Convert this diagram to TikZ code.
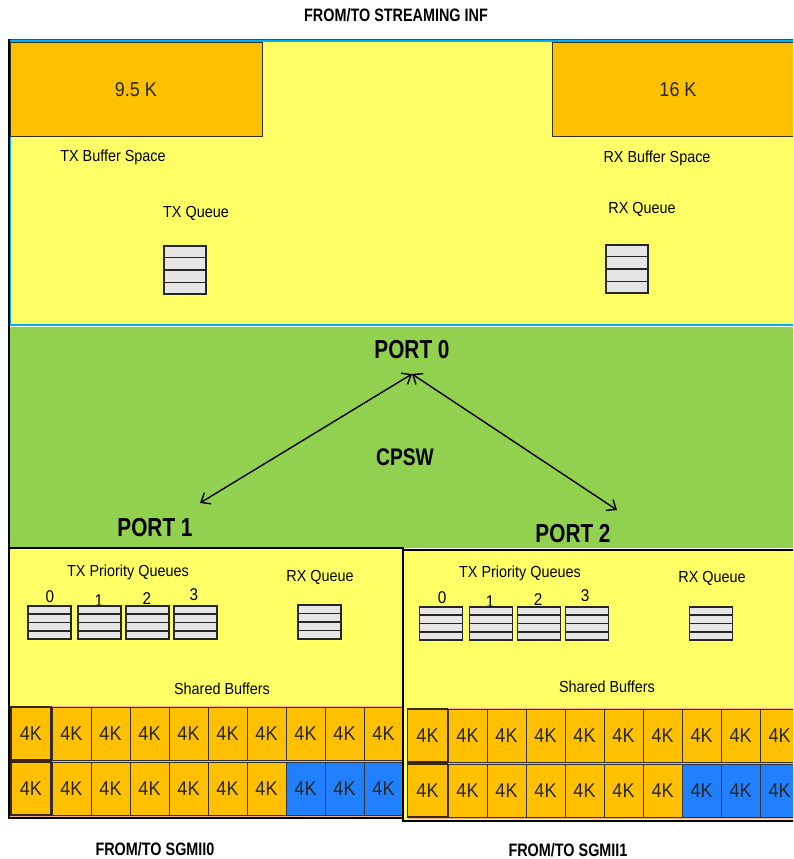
\documentclass[tikz,border=0pt]{standalone}
\usepackage{fontspec}
\setmainfont{Liberation Sans}
\newfontfamily\narrowbf[FakeStretch=0.8]{Liberation Sans Bold}
\newfontfamily\lblfont[FakeStretch=0.9]{Liberation Sans}
\usetikzlibrary{arrows.meta,calc}
\definecolor{ylw}{HTML}{FFFF66}
\definecolor{org}{HTML}{FFC000}
\definecolor{grn}{HTML}{92D050}
\definecolor{cyn}{HTML}{00B0F0}
\definecolor{blu}{HTML}{2080FF}
\definecolor{qgray}{HTML}{E6E6E6}
\definecolor{peach}{HTML}{F4B183}
\definecolor{txtgray}{HTML}{262626}
\tikzset{
  lbl/.style={font=\lblfont\fontsize{16}{18}\selectfont, inner sep=0, text=black},
  digit/.style={font=\lblfont\fontsize{17}{19}\selectfont, inner sep=0},
  big/.style={font=\narrowbf\fontsize{26}{28}\selectfont, inner sep=0},
  hdr/.style={font=\narrowbf\fontsize{18}{20}\selectfont, inner sep=0},
  bufbig/.style={draw=black!80, line width=1pt, fill=org, font=\lblfont\fontsize{20}{22}\selectfont, text=txtgray, inner sep=0},
  cell/.style={draw=black!80, line width=0.8pt, fill=org, font=\lblfont\fontsize{20}{22}\selectfont, text=txtgray, inner sep=0, minimum width=39pt, minimum height=53pt},
  firstcell/.style={cell, line width=1.4pt, draw=black!70!brown, minimum width=40pt},
  bluecell/.style={cell, fill=blu},
  dbl/.style={{Straight Barb[length=8pt,width=13pt]}-{Straight Barb[length=8pt,width=13pt]}, line width=1.4pt}
}
\newcommand\qicon[5]{%
  \node[draw=black!85, fill=qgray, line width=1.2pt, minimum width=#4pt, minimum height=#5pt, inner sep=0] (#1) at (#2,#3) {};
  \foreach \k in {1,2,3}
    \draw[line width=1.2pt, black!85] ($(#1.north west)!\k/4!(#1.south west)$) -- ($(#1.north east)!\k/4!(#1.south east)$);
}
\begin{document}
\begin{tikzpicture}[x=1pt,y=-1pt]
\useasboundingbox (0,0) rectangle (793,859);
\clip (0,0) rectangle (793,859);
\fill[white] (0,0) rectangle (793,859);

% top region
\draw[black!70, line width=0.8pt] (9,39) -- (800,39);
\draw[cyn, line width=2pt, fill=ylw] (10,41) rectangle (800,325);
% green CPSW region
\fill[grn] (9,326.5) rectangle (800,548);
\draw[black, line width=1.2pt] (9,39) -- (9,818);

% buffer spaces
\node[bufbig, minimum width=252pt, minimum height=93pt] (txbuf) at (136,89.5) {9.5 K};
\node[bufbig, minimum width=260pt, minimum height=93pt] (rxbuf) at (682,89.5) {};
\node[font=\lblfont\fontsize{20}{22}\selectfont, text=txtgray, inner sep=0] (rxbuftxt) at (678,90) {16 K};
\node[lbl] (txbs) at (113,157) {TX Buffer Space};
\node[lbl] (rxbs) at (657,158) {RX Buffer Space};
\node[lbl] (txql) at (196,213) {TX Queue};
\node[lbl] (rxql) at (642,209) {RX Queue};
\qicon{txq}{185}{270}{42}{48}
\qicon{rxq}{627}{269}{42}{48}

% header
\node[hdr] (strm) at (396,15) {FROM/TO STREAMING INF};

% ports
\node[big] (port0) at (412,350) {PORT 0};
\node[big, font=\narrowbf\fontsize{24}{26}\selectfont] (cpsw) at (405,457) {CPSW};
\node[big] (port1) at (155,528) {PORT 1};
\node[big] (port2) at (573,534) {PORT 2};
\coordinate (apex) at (412,374);
\coordinate (p1end) at (200,503);
\coordinate (p2end) at (617,510);
\draw[dbl] (apex) -- (p1end);
\draw[dbl] (apex) -- (p2end);

% port 1 box
\draw[black, line width=1.5pt, fill=ylw] (9,548) rectangle (403,818);
\node[lbl] (p1tx) at (128,572) {TX Priority Queues};
\node[digit] (p1d0) at (50,597) {0};
\node[digit] (p1d1) at (99,601) {1};
\node[digit] (p1d2) at (147,599) {2};
\node[digit] (p1d3) at (194,595) {3};
\qicon{p1q0}{49.5}{622.5}{43}{33}
\qicon{p1q1}{99.5}{622.5}{43}{33}
\qicon{p1q2}{147.5}{622.5}{43}{33}
\qicon{p1q3}{195.5}{622.5}{43}{33}
\node[lbl] (p1rx) at (320,577) {RX Queue};
\qicon{p1rq}{319.5}{622}{43}{34}
\node[lbl] (p1sb) at (222,689) {Shared Buffers};
\fill[peach] (11,706) rectangle (402,817);
\node[firstcell] (p1a0) at (31,733.5) {4K};
\node[firstcell] (p1b0) at (31,788.5) {4K};
\foreach \i in {1,...,9}{
  \node[cell] (p1a\i) at ({52+39*(\i-1)+19.5},733.5) {4K};
}
\foreach \i in {1,...,6}{
  \node[cell] (p1b\i) at ({52+39*(\i-1)+19.5},789) {4K};
}
\foreach \i in {7,8,9}{
  \node[bluecell] (p1b\i) at ({52+39*(\i-1)+19.5},789) {4K};
}

% port 2 box
\draw[black, line width=1.5pt, fill=ylw] (403,550) rectangle (805,821);
\node[lbl] (p2tx) at (520,573) {TX Priority Queues};
\node[digit] (p2d0) at (442,598) {0};
\node[digit] (p2d1) at (490,602) {1};
\node[digit] (p2d2) at (538,600) {2};
\node[digit] (p2d3) at (585,596) {3};
\qicon{p2q0}{441}{623.5}{43}{33}
\qicon{p2q1}{491}{623.5}{43}{33}
\qicon{p2q2}{539}{623.5}{43}{33}
\qicon{p2q3}{587}{623.5}{43}{33}
\node[lbl] (p2rx) at (712,578) {RX Queue};
\qicon{p2rq}{711}{623.5}{43}{33}
\node[lbl] (p2sb) at (607,687) {Shared Buffers};
\fill[peach] (408,708) rectangle (800,819);
\node[firstcell] (p2a0) at (427.5,735.5) {4K};
\node[firstcell] (p2b0) at (427.5,790.5) {4K};
\foreach \i in {1,...,9}{
  \node[cell] (p2a\i) at ({448+39*(\i-1)+19.5},735.5) {4K};
}
\foreach \i in {1,...,6}{
  \node[cell] (p2b\i) at ({448+39*(\i-1)+19.5},791) {4K};
}
\foreach \i in {7,8,9}{
  \node[bluecell] (p2b\i) at ({448+39*(\i-1)+19.5},791) {4K};
}

% bottom labels
\node[hdr] (sg0) at (155,849) {FROM/TO SGMII0};
\node[hdr] (sg1) at (568,850) {FROM/TO SGMII1};
\end{tikzpicture}
\end{document}
